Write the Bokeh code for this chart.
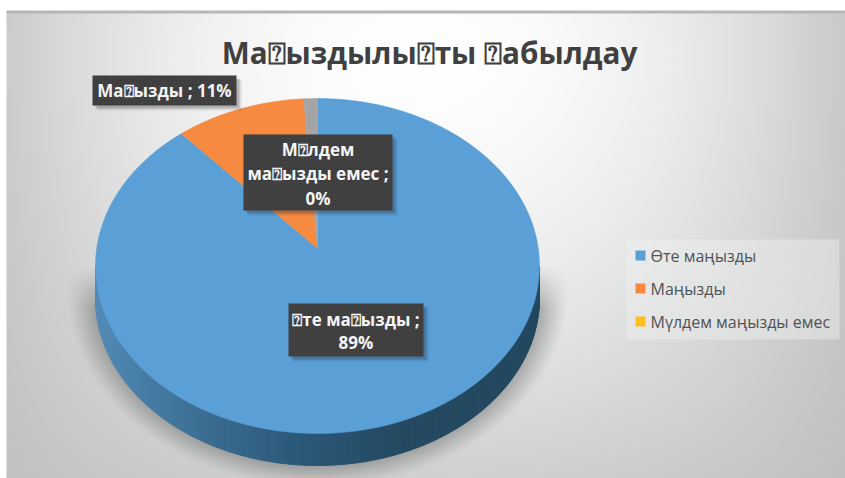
import numpy as np
from bokeh.plotting import figure
from bokeh.models import Range1d
from bokeh.core.properties import value
from bokeh.embed import file_html
from bokeh.resources import INLINE

TITLE = "Ма⍰ыздылы⍰ты ⍰абылдау"
legend_labels = ["Өте маңызды", "Маңызды", "Мүлдем маңызды емес"]
legend_colors = ["#5b9fd7", "#f58a40", "#fdc020"]
# clockwise from 12 o'clock, shares
slice_shares = [89.5, 9.5, 1.0]
slice_colors = ["#5b9fd7", "#f58a40", "#a5a5a5"]

W, H = 845, 478
def Y(py):
    return 478 - np.asarray(py, dtype=float)

p = figure(width=W, height=H, x_range=Range1d(0, W), y_range=Range1d(0, H),
           toolbar_location=None, output_backend="svg", min_border=0,
           outline_line_color=None, background_fill_color="white", border_fill_color="white")
p.axis.visible = False
p.grid.visible = False

# background gradient + soft pie shadow
xs = np.arange(0, W) + .5
ys = np.arange(0, H) + .5
gx, gy = np.meshgrid(xs, ys)
py = 478 - gy
dx = np.abs(gx - 420) / 430
dy = np.abs(py - 60) / 420
base = 255 - 55 * dx ** 2 - 48 * dy ** 1.5 * (1 - 0.8 * np.clip(dx, 0, 1) ** 2)
r = base; g = base + 1.5 * dy; b = base + 1.5 * dy
sd = np.sqrt(((gx - 317) / 240) ** 2 + ((py - 290) / 188) ** 2)
sh = np.clip((1.045 - sd) / 0.11, 0, 1) ** 1.1 * 0.42
sh = sh * np.clip((py - 265) / 45, 0, 1)
r = r * (1 - sh) + 90 * sh
g = g * (1 - sh) + 92 * sh
b = b * (1 - sh) + 92 * sh
img = np.zeros((H, W), dtype=np.uint32)
v = img.view(dtype=np.uint8).reshape((H, W, 4))
v[..., 0] = r; v[..., 1] = g; v[..., 2] = b; v[..., 3] = 255
v[(py >= 10) & (py < 13), :3] = (181, 183, 183)
v[py < 10, :3] = 255
v[gx < 6, :3] = 255
p.image_rgba(image=[img], x=0, y=0, dw=W, dh=H)

# pie geometry
cx, cy, rx, ry = 317.0, 265.5, 222.0, 167.5
apx, apy = 317.0, 248.0
depth = 32.0

# side wall, bottom half of the ellipse
stops_x = [95, 130, 200, 290, 400, 540]
stops_r = [0x55, 0x4a, 0x3d, 0x2c, 0x25, 0x23]
stops_g = [0x8c, 0x80, 0x6f, 0x5a, 0x4a, 0x48]
stops_b = [0xb8, 0xa9, 0x93, 0x7b, 0x62, 0x60]
side_x, side_y, side_c = [], [], []
ang = np.radians(np.linspace(90, 270, 181))
for a0, a1 in zip(ang[:-1], ang[1:]):
    x0, x1 = cx + rx * np.sin(a0), cx + rx * np.sin(a1)
    y0, y1 = cy - ry * np.cos(a0), cy - ry * np.cos(a1)
    side_x.append([x0, x1, x1, x0])
    side_y.append(list(Y([y0, y1, y1 + depth, y0 + depth])))
    m = (x0 + x1) / 2
    side_c.append("#%02x%02x%02x" % (int(np.interp(m, stops_x, stops_r)),
                                     int(np.interp(m, stops_x, stops_g)),
                                     int(np.interp(m, stops_x, stops_b))))
p.patches(side_x, side_y, fill_color=side_c, line_color=side_c, line_width=1)

# top face: slices clockwise from 12 o'clock
shares = np.array(slice_shares, dtype=float)
edges = np.concatenate([[0], np.cumsum(shares)]) / shares.sum() * 2 * np.pi
for s, e, col in zip(edges[:-1], edges[1:], slice_colors):
    a = np.linspace(s, e, max(3, int((e - s) * 80)))
    px_ = np.concatenate([[apx], cx + rx * np.sin(a)])
    py_ = np.concatenate([[apy], cy - ry * np.cos(a)])
    p.patch(px_, Y(py_), fill_color=col, line_color=col, line_width=0.5)

# data labels
boxes = [
    (92, 236, 75, 105, ["Ма⍰ызды ; 11%"], [90]),
    (243, 392, 134, 210, ["М⍰лдем", "ма⍰ызды емес ;", "0%"], [149, 173, 198]),
    (288, 423, 303, 356, ["⍰те ма⍰ызды ;", "89%"], [319, 342]),
]
for x0, x1, y0, y1, lines, lys in boxes:
    for off, al in [(5, 0.10), (3, 0.22)]:
        p.quad(left=x0 + off, right=x1 + off, top=Y(y0 + off), bottom=Y(y1 + off),
               fill_color="#202020", fill_alpha=al, line_color=None)
    p.quad(left=x0, right=x1, top=Y(y0), bottom=Y(y1), fill_color="#3e3e3f", line_color=None,
           hatch_pattern="dot", hatch_color="#4d4d4d", hatch_scale=4, hatch_alpha=0.5)
    p.text(x=[(x0 + x1) / 2] * len(lines), y=list(Y(lys)), text=lines,
           text_color="#f4f4f4", text_font=value("Open Sans"), text_font_style="bold",
           text_font_size="17px", text_align="center", text_baseline="middle")

# title
p.text(x=[429], y=[float(Y(52))], text=[TITLE], text_color="#404040", text_font=value("Open Sans"),
       text_font_style="bold", text_font_size="29.7px", text_align="center", text_baseline="middle")

# legend
p.quad(left=626, right=839, top=Y(239), bottom=Y(339), fill_color="#f0f0f0", fill_alpha=0.45, line_color=None)
for lab, col, ly in zip(legend_labels, legend_colors, [255, 288, 321]):
    p.quad(left=635, right=645, top=Y(ly - 5), bottom=Y(ly + 5), fill_color=col, line_color=None)
    p.text(x=[650], y=[float(Y(ly))], text=[lab], text_color="#505355", text_font=value("Open Sans"),
           text_font_size="16px", text_align="left", text_baseline="middle")

open("out.html", "w").write(file_html(p, INLINE))
